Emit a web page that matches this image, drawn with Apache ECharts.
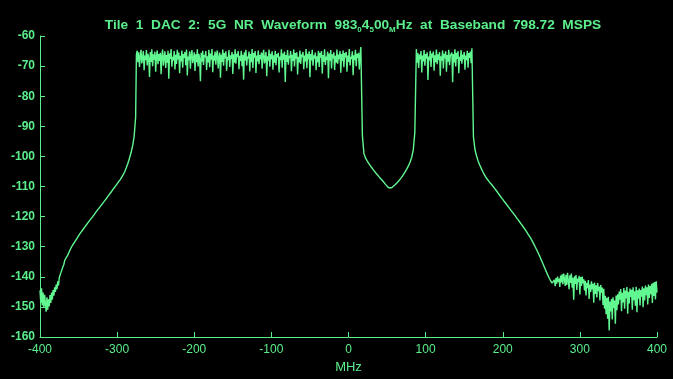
<!DOCTYPE html>
<html>
<head>
<meta charset="utf-8">
<script src="https://cdn.jsdelivr.net/npm/echarts@6/dist/echarts.min.js"></script>
<style>
html,body{margin:0;padding:0;background:#000;}
#chart{width:673px;height:379px;}
</style>
</head>
<body>
<div id="chart"></div>
<script>
// Spectrum samples; each segment = [start frequency MHz, bin width MHz, values dBFS]
const xTicks = [-400, -300, -200, -100, 0, 100, 200, 300, 400];
const yTicks = [-160, -150, -140, -130, -120, -110, -100, -90, -80, -70, -60];

const lowNoise = [-144.5,-148.6,-143.8,-149.5,-145.2,-150.3,-146.0,-148.9,-151.6,-146.8,
  -150.9,-147.5,-149.8,-146.1,-148.7,-145.2,-147.6,-144.4,-146.3,-143.5,
  -145.0,-142.6,-144.1,-141.5,-142.9,-140.3,-139.5,-138.7,-138.9,-137.2,
  -136.8,-135.8];

const lowSkirt = [-134.6,-133.6,-132.8,-131.6,-130.5,-129.6,-128.8,-128.0,-127.2,-126.4,
  -125.6,-124.9,-124.2,-123.5,-122.8,-122.1,-121.4,-120.8,-120.1,-119.4,
  -118.7,-118.0,-117.4,-116.7,-116.0,-115.4,-114.7,-114.0,-113.3,-112.6,
  -111.9,-111.2,-110.5,-109.8,-109.1,-108.4,-107.7,-106.9,-106.0,-105.0,
  -103.7,-102.3,-100.6,-98.8,-96.6,-93.5,-87];

const carrierA = [-66.2,-64.9,-68.7,-65.4,-70.3,-66.8,-64.6,-69.1,-67.2,-65.0,
  -71.4,-66.5,-68.0,-64.7,-69.8,-65.9,-67.4,-73.6,-65.3,-68.6,
  -64.4,-70.0,-66.1,-67.9,-65.2,-71.9,-66.7,-64.8,-69.4,-66.0,
  -68.3,-65.6,-72.7,-66.4,-64.5,-69.9,-67.0,-65.1,-70.6,-66.3,
  -68.9,-64.9,-74.2,-65.8,-67.6,-64.3,-70.2,-66.9,-68.1,-65.0,
  -71.1,-66.2,-69.3,-64.6,-67.8,-65.5,-72.4,-66.6,-68.4,-64.8,
  -70.5,-66.0,-67.3,-65.3,-69.7,-64.5,-73.1,-66.8,-68.0,-65.1,
  -70.9,-66.4,-64.7,-69.0,-67.5,-65.4,-71.6,-66.1,-68.7,-64.4,
  -70.1,-65.9,-67.7,-75.0,-65.6,-68.5,-64.9,-69.6,-66.3,-67.1,
  -65.0,-71.3,-66.7,-68.8,-64.6,-70.4,-65.8,-67.9,-64.3,-72.0,
  -66.5,-68.2,-65.2,-69.5,-66.0,-64.8,-70.8,-67.3,-65.5,-73.9,
  -66.2,-68.6,-64.5,-69.9,-65.7,-67.4,-65.1,-71.5,-66.9,-68.0,
  -64.7,-70.3,-66.4,-67.6,-65.3,-72.6,-66.1,-68.9,-64.4,-69.2,
  -65.9,-67.0,-65.0,-71.0,-66.6,-68.3,-64.9,-70.0,-66.2,-74.5,
  -65.4,-68.1,-64.6,-69.8,-66.8,-67.5,-65.2,-71.8,-66.0,-68.7,
  -64.3,-70.6,-65.7,-67.2,-65.0,-72.3,-66.5,-68.4,-64.8,-69.4,
  -66.3,-67.8,-65.5,-70.9,-66.1,-64.6,-69.1,-67.4,-65.3,-73.4,
  -66.7,-68.2,-64.5,-70.2,-65.9,-67.7,-65.1,-71.2,-66.4,-68.9,
  -64.9,-69.7,-66.0,-67.1,-65.6,-72.1,-66.8,-68.0,-64.4,-70.5,
  -65.8,-67.9,-65.2,-75.3,-66.3,-68.6,-64.7,-69.5,-66.6,-67.3,
  -65.0,-71.7,-66.2,-68.3,-64.5,-70.1,-65.7,-67.6,-65.4,-72.8,
  -66.9,-68.8,-64.8,-69.3,-66.1,-67.0,-65.3,-71.0,-66.5,-68.4,
  -64.3,-70.7,-65.9,-67.8,-65.1,-73.7,-66.0,-68.1,-64.6,-69.9,
  -66.4,-67.5,-65.5,-71.4,-66.7,-68.7,-64.9,-70.3,-65.6,-67.2,
  -65.0,-72.5,-66.3,-68.5,-64.4,-69.6,-66.8,-67.9,-65.2,-74.0,
  -65.8,-68.2,-64.7,-70.8,-66.1,-67.4,-65.4,-71.3,-66.6,-68.9,
  -64.5,-69.2,-66.2,-67.7,-65.0,-72.2,-66.0,-68.3,-64.8,-70.4,
  -65.7,-67.1,-65.3,-71.9,-66.5,-68.6,-64.3,-69.8,-66.9,-67.6,
  -65.1,-73.0,-66.4,-68.0,-64.6,-70.0,-65.9,-67.3,-65.6,-71.1,
  -66.3,-63.7];

const gap = [-93,-99,-100.5,-101.4,-102.2,-103.0,-103.7,-104.4,-105.0,-105.7,
  -106.3,-106.9,-107.5,-108.0,-108.6,-109.3,-109.9,-110.4,-110.7,-110.4,
  -110.0,-109.5,-109.0,-108.5,-107.9,-107.2,-106.5,-105.7,-104.9,-104.0,
  -103.0,-101.8,-100.2,-97.8,-92];

const carrierB = [-64.3,-68.9,-65.7,-70.6,-66.2,-67.8,-65.0,-72.1,-66.5,-68.4,
  -64.7,-69.9,-66.0,-67.5,-65.4,-74.6,-66.8,-68.1,-64.9,-70.3,
  -65.8,-67.2,-65.2,-71.5,-66.4,-68.7,-64.5,-69.4,-66.1,-67.9,
  -65.3,-73.2,-66.7,-68.2,-64.8,-70.8,-65.9,-67.4,-65.1,-71.9,
  -66.3,-68.5,-64.6,-69.7,-66.6,-67.0,-65.5,-75.4,-66.0,-68.8,
  -64.4,-70.1,-65.6,-67.6,-65.0,-72.4,-66.9,-68.3,-64.7,-69.2,
  -66.2,-67.7,-65.3,-71.2,-66.5,-68.0,-64.9,-70.5,-65.7,-67.3,
  -65.2,-69.0,-64.1];

const highSkirt = [-93.5,-97.8,-99.8,-101.5,-102.8,-103.9,-105.0,-106.0,-106.9,-107.6,
  -108.3,-108.9,-109.5,-110.1,-110.8,-111.5,-112.2,-112.9,-113.6,-114.3,
  -115.0,-115.6,-116.3,-117.0,-117.7,-118.3,-119.0,-119.7,-120.4,-121.1,
  -121.8,-122.5,-123.2,-123.9,-124.7,-125.5,-126.3,-127.1,-128.0,-129.0,
  -130.0,-131.0,-132.1,-133.2,-134.4,-135.6,-136.8,-138.0,-139.2,-140.3,
  -141.3,-142.1];

const highNoise = [-142.6,-141.0,-143.1,-140.4,-142.3,-139.9,-141.7,-140.6,-143.4,-139.6,-141.9,-139.2,-142.5,-138.9,-140.8,-143.0,
  -139.3,-142.7,-138.7,-141.4,-144.1,-139.5,-142.0,-138.9,-143.6,-140.3,-147.6,-139.8,-142.4,-139.4,-144.4,-140.6,-141.8,-139.7,-145.9,-140.1,-143.0,-139.9,-142.2,-140.8,
  -144.5,-141.3,-146.2,-142.0,-143.8,-141.1,-147.4,-142.6,-145.0,-141.5,-144.2,-142.3,-148.6,-141.9,-145.7,-142.8,-146.9,-142.1,-144.8,-143.2,-147.9,-142.7,-145.3,-143.6,-149.4,-144.0,
  -150.6,-146.3,-152.4,-147.0,-153.9,-146.6,-157.8,-148.2,-151.5,-147.4,-154.2,-146.8,-150.3,-147.9,-155.6,-146.2,-151.1,-145.8,
  -149.2,-144.9,-147.6,-144.1,-151.4,-145.3,-148.5,-143.7,-150.6,-144.6,-147.1,-143.4,-152.3,-145.0,-148.9,-143.9,-146.7,-144.3,-150.9,-143.5,-147.8,-144.8,-149.6,-143.3,-151.8,-144.5,
  -147.3,-143.9,-149.5,-144.4,-146.6,-143.2,-150.1,-143.8,-147.9,-142.9,-146.1,-143.5,-149.2,-142.6,-147.0,-143.1,-145.8,-142.3,-148.7,-142.0,-146.4,-141.7,-147.5,-141.5,-145.2];

const segments = [
  [-400, 1, lowNoise], [-368, 2, lowSkirt], [-275, 1, carrierA],
  [18, 2, gap], [88, 1, carrierB], [162, 2, highSkirt], [266, 1, highNoise]
];
const points = [];
segments.forEach(([start, bin, vals]) => vals.forEach((v, i) => points.push([start + i * bin, v])));

const green = '#5bef8c';
const font = 'Liberation Sans, Arial, sans-serif';
const chart = echarts.init(document.getElementById('chart'), null, {renderer: 'canvas'});
chart.setOption({
  backgroundColor: '#000',
  animation: false,
  title: {
    text: '{n|Tile  1  DAC  2:  5G  NR  Waveform  983}{s|0}{n|4}{s|5}{n|00}{s|M}{n|Hz  at  Baseband  798.72  MSPS}',
    left: 348, top: 10, textAlign: 'center',
    textStyle: {
      rich: {
        n: {fontFamily: font, fontWeight: 'bold', fontSize: 13.7, color: green, lineHeight: 17, verticalAlign: 'bottom'},
        s: {fontFamily: font, fontWeight: 'bold', fontSize: 8, color: green, lineHeight: 17, verticalAlign: 'bottom', padding: [0, 0, -2, 0]}
      }
    }
  },
  grid: {left: 40, right: 16, top: 36, bottom: 42, containLabel: false, outerBoundsMode: 'none'},
  xAxis: {
    type: 'value', min: -400, max: 400, interval: 100,
    name: 'MHz', nameLocation: 'middle', nameGap: 23,
    nameTextStyle: {color: green, fontFamily: font, fontSize: 13},
    axisLine: {show: true, onZero: false, lineStyle: {color: green, width: 1}},
    axisTick: {show: true, inside: true, length: 5, lineStyle: {color: green}},
    axisLabel: {color: green, fontFamily: font, fontSize: 12, margin: 7,
      formatter: v => xTicks.includes(v) ? String(v) : ''},
    splitLine: {show: false}
  },
  yAxis: {
    type: 'value', min: -160, max: -60, interval: 10,
    axisLine: {show: true, onZero: false, lineStyle: {color: green, width: 1}},
    axisTick: {show: true, inside: true, length: 5, lineStyle: {color: green}},
    axisLabel: {color: green, fontFamily: font, fontSize: 12, fontWeight: 'bold', margin: 5,
      formatter: v => yTicks.includes(v) ? String(v) : ''},
    splitLine: {show: false}
  },
  series: [{
    type: 'line', data: points, showSymbol: false, symbol: 'none', sampling: 'none',
    lineStyle: {color: '#62f891', width: 1.4}, clip: true
  }]
});
</script>
</body>
</html>
